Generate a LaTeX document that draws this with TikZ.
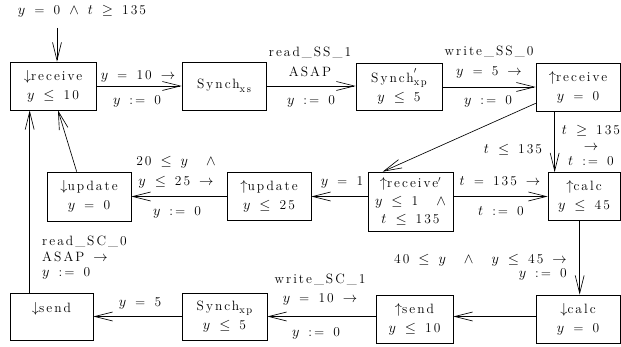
\documentclass[tikz,border=0pt]{standalone}
\usepackage{fontspec}
\setmainfont{Latin Modern Roman}[LetterSpace=15,WordSpace=1.4]
\usetikzlibrary{arrows.meta,calc}
\newcommand{\lfnt}{\fontsize{13.5}{19}\selectfont}
\newcommand{\sbs}[1]{\raisebox{-3.5pt}{\fontsize{10.5}{10.5}\selectfont #1}}
\begin{document}
\begin{tikzpicture}[x=1pt,y=-1pt,
  box/.style={draw, line width=0.65pt, inner sep=0pt, align=center, font=\lfnt},
  lab/.style={inner sep=0pt, align=center, font=\lfnt},
  arr/.style={line width=0.65pt, -{Straight Barb[length=18pt,width=9pt,line width=0.65pt]}}]
\useasboundingbox (0,0) rectangle (621,347);
% states
\node[box,minimum width=86,minimum height=48] (rcvD) at (53,86) {$\downarrow$receive\\$y$ $\leq$ 10};
\node[box,minimum width=84,minimum height=48] (sxs) at (224,86) {Synch\sbs{xs}};
\node[box,minimum width=86,minimum height=47] (sxpp) at (399,86.5) {Synch\rlap{\raisebox{3pt}{$'$}}\sbs{xp}\\$y$ $\leq$ 5};
\node[box,minimum width=84,minimum height=48] (rcvU) at (578,87) {$\uparrow$receive\\$y$ = 0};
\node[box,minimum width=84,minimum height=49] (updD) at (89,196.5) {$\downarrow$update\\$y$ = 0};
\node[box,minimum width=84,minimum height=48] (updU) at (269,196.5) {$\uparrow$update\\$y$ $\leq$ 25};
\node[box,minimum width=85,minimum height=59,font=\fontsize{13.5}{18}\selectfont] (rcvUU) at (410.5,201.5) {$\uparrow$receive$'$\\$y$ $\leq$ 1 \ $\wedge$\\$t$ $\leq$ 135};
\node[box,minimum width=72,minimum height=48] (calcU) at (584,196.5) {$\uparrow$calc\\$y$ $\leq$ 45};
\node[box,minimum width=83,minimum height=47] (sendD) at (51.5,316.5) {$\downarrow$send\\~};
\node[box,minimum width=85,minimum height=47] (sxp) at (224.5,316.5) {Synch\sbs{xp}\\$y$ $\leq$ 5};
\node[box,minimum width=77,minimum height=48] (sendU) at (414.5,319) {$\uparrow$send\\$y$ $\leq$ 10};
\node[box,minimum width=84,minimum height=48] (calcD) at (578,319) {$\downarrow$calc\\$y$ = 0};
% labels
\node[lab] (l0) at (82,11) {$y$ = 0 $\wedge$ $t$ $\geq$ 135};
\node[lab] (l1a) at (138,76) {$y$ = 10 $\rightarrow$};
\node[lab] (l1b) at (137,101) {$y$ := 0};
\node[lab,font=\fontsize{13.5}{20}\selectfont] (l2a) at (310,62) {read\_SS\_1\\ASAP};
\node[lab] (l2b) at (311,101) {$y$ := 0};
\node[lab,font=\fontsize{13.5}{20}\selectfont] (l3a) at (489,62) {write\_SS\_0\\$y$ = 5 $\rightarrow$};
\node[lab] (l3b) at (488,101) {$y$ := 0};
\node[lab] (l4) at (513,150) {$t$ $\leq$ 135};
\node[lab,font=\fontsize{13.5}{15.5}\selectfont] (l5) at (591,146) {$t$ $\geq$ 135\\$\rightarrow$\\$t$ := 0};
\node[lab] (l6a) at (500,181) {$t$ = 135 $\rightarrow$};
\node[lab] (l6b) at (501,211) {$t$ := 0};
\node[lab] (l7) at (342,182) {$y$ = 1};
\node[lab,font=\fontsize{13.5}{20}\selectfont] (l8a) at (176,172) {20 $\leq$ $y$ \ $\wedge$\\$y$ $\leq$ 25 $\rightarrow$};
\node[lab] (l8b) at (177,212) {$y$ := 0};
\node[lab,align=left,anchor=west,font=\fontsize{13.5}{15.5}\selectfont] (l9) at (42,258) {read\_SC\_0\\ASAP $\rightarrow$\\$y$ := 0};
\node[lab,align=right,anchor=east,font=\fontsize{13.5}{14}\selectfont] (l10) at (567,267) {40 $\leq$ $y$ \ $\wedge$ \ $y$ $\leq$ 45 $\rightarrow$\\$y$ := 0};
\node[lab,font=\fontsize{13.5}{19}\selectfont] (l11a) at (320,290) {write\_SC\_1\\$y$ = 10 $\rightarrow$};
\node[lab] (l11b) at (316,333) {$y$ := 0};
\node[lab] (l12) at (140,303) {$y$ = 5};
% connectors
\coordinate (init) at (57,28);
\draw[arr] (init) -- (init |- rcvD.north);
\draw[arr] (rcvD.east) -- (sxs.west);
\draw[arr] (sxs.east) -- (sxs.east -| sxpp.west);
\draw[arr] (sxpp.east |- rcvU.west) -- (rcvU.west);
\draw[arr] ($(rcvU.south west)+(0,-8)$) -- ($(rcvUU.north west)+(15,0)$);
\draw[arr] ([xshift=7pt]calcU.north west |- rcvU.south) -- ([xshift=7pt]calcU.north west);
\draw[arr] (rcvUU.east |- calcU.west) -- (calcU.west);
\draw[arr] (rcvUU.west |- updU.east) -- (updU.east);
\draw[arr] (updU.west) -- (updD.east);
\draw[arr] ([xshift=30pt]updD.north west) -- ([xshift=5pt]rcvD.south);
\draw[arr] ([xshift=20pt]sendD.north west) -- ([xshift=20pt]sendD.north west |- rcvD.south);
\draw[arr] ([xshift=32pt]calcU.south west) -- ([xshift=32pt]calcU.south west |- calcD.north);
\draw[arr] (calcD.west |- sxp.east) -- (sendU.east |- sxp.east);
\draw[arr] (sendU.west |- sxp.east) -- (sxp.east);
\draw[arr] (sxp.west) -- (sendD.east);
\end{tikzpicture}
\end{document}
